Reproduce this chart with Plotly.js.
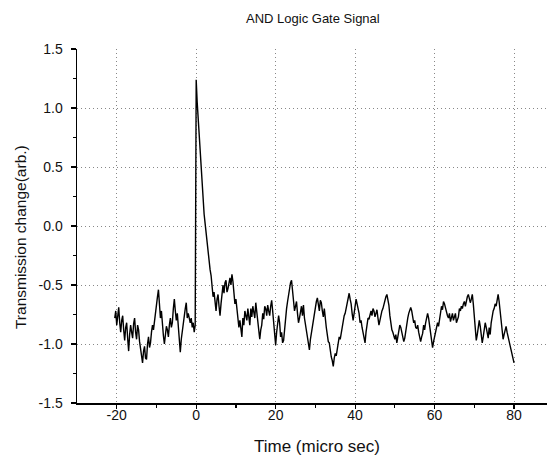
<!DOCTYPE html>
<html>
<head>
<meta charset="utf-8">
<script src="https://cdn.plot.ly/plotly-3.0.1.min.js"></script>
<style>html,body{margin:0;padding:0;background:#fff;}#chart{width:547px;height:458px;}</style>
</head>
<body>
<div id="chart"></div>
<script>
// Sampling grid of the trace (micro sec)
var timeStart = -20.5;
var timeStep = 0.25;
// Transmission change (arb.)
var signal = [
  -0.78, -0.72, -0.84, -0.76, -0.69, -0.82, -0.90, -0.80, -0.76, -0.88, -0.97, -0.86, -0.82, -0.95, -1.06, -0.92, -0.84, -0.90, -0.95, -0.83,
  -0.78, -0.90, -0.96, -0.84, -0.88, -0.98, -1.04, -1.10, -1.16, -1.06, -1.02, -1.12, -1.13, -1.00, -0.94, -1.03, -0.99, -0.90, -0.84, -0.88,
  -0.80, -0.74, -0.70, -0.60, -0.54, -0.66, -0.78, -0.72, -0.86, -0.93, -1.00, -0.90, -0.85, -0.88, -0.94, -0.84, -0.78, -0.86, -0.82, -0.70,
  -0.62, -0.72, -0.80, -0.74, -0.86, -0.98, -1.07, -0.96, -0.88, -0.80, -0.76, -0.70, -0.65, -0.78, -0.74, -0.80, -0.82, -0.78, -0.86, -0.82,
  -0.90, -0.84,  1.24,  1.05,  0.92,  0.74,  0.56,  0.44,  0.32,  0.20,  0.10,  0.02, -0.06, -0.16, -0.26, -0.33, -0.37, -0.42, -0.49, -0.60,
  -0.56, -0.66, -0.72, -0.62, -0.58, -0.68, -0.76, -0.66, -0.60, -0.50, -0.57, -0.48, -0.46, -0.56, -0.53, -0.47, -0.44, -0.50, -0.41, -0.47,
  -0.55, -0.66, -0.62, -0.70, -0.76, -0.86, -0.80, -0.88, -0.94, -0.78, -0.84, -0.72, -0.76, -0.80, -0.70, -0.78, -0.84, -0.70, -0.77, -0.68,
  -0.72, -0.78, -0.65, -0.74, -0.82, -0.90, -0.96, -0.88, -0.84, -0.74, -0.79, -0.68, -0.70, -0.76, -0.67, -0.72, -0.76, -0.68, -0.63, -0.72,
  -0.80, -0.92, -1.01, -0.90, -0.84, -0.76, -0.82, -0.94, -0.90, -0.99, -0.97, -0.86, -0.78, -0.70, -0.64, -0.58, -0.53, -0.48, -0.46, -0.56,
  -0.62, -0.72, -0.68, -0.64, -0.74, -0.82, -0.78, -0.72, -0.68, -0.76, -0.67, -0.78, -0.84, -0.90, -0.95, -1.02, -1.05, -0.96, -0.90, -0.86,
  -0.80, -0.76, -0.70, -0.64, -0.61, -0.68, -0.72, -0.63, -0.65, -0.72, -0.77, -0.70, -0.80, -0.86, -0.92, -0.98, -0.99, -1.06, -1.11, -1.14,
  -1.19, -1.12, -1.08, -1.10, -1.03, -0.98, -0.94, -0.96, -0.90, -0.84, -0.80, -0.76, -0.74, -0.70, -0.67, -0.60, -0.57, -0.62, -0.66, -0.74,
  -0.80, -0.74, -0.69, -0.62, -0.66, -0.70, -0.74, -0.82, -0.80, -0.86, -0.91, -0.96, -0.99, -0.90, -0.84, -0.78, -0.79, -0.76, -0.72, -0.76,
  -0.70, -0.72, -0.77, -0.74, -0.71, -0.78, -0.84, -0.80, -0.75, -0.72, -0.70, -0.66, -0.63, -0.60, -0.58, -0.62, -0.67, -0.76, -0.83, -0.88,
  -0.90, -0.94, -0.96, -0.92, -0.99, -0.94, -0.89, -0.84, -0.86, -0.90, -0.93, -0.98, -0.95, -0.88, -0.81, -0.78, -0.74, -0.70, -0.69, -0.72,
  -0.76, -0.82, -0.80, -0.86, -0.87, -0.84, -0.90, -0.94, -0.98, -0.94, -0.91, -0.84, -0.88, -0.82, -0.79, -0.74, -0.78, -0.84, -0.89, -0.96,
  -1.03, -0.98, -0.94, -0.90, -0.88, -0.82, -0.85, -0.78, -0.74, -0.68, -0.71, -0.64, -0.66, -0.70, -0.73, -0.76, -0.78, -0.74, -0.81, -0.78,
  -0.74, -0.80, -0.77, -0.74, -0.82, -0.80, -0.77, -0.70, -0.72, -0.68, -0.70, -0.66, -0.64, -0.68, -0.62, -0.60, -0.58, -0.62, -0.65, -0.62,
  -0.58, -0.66, -0.78, -0.88, -0.97, -0.92, -0.87, -0.80, -0.85, -0.92, -0.99, -0.94, -0.89, -0.82, -0.86, -0.92, -0.95, -0.86, -0.92, -0.82,
  -0.75, -0.72, -0.70, -0.66, -0.68, -0.62, -0.58, -0.64, -0.72, -0.82, -0.90, -0.96, -0.92, -0.88, -0.85, -0.90, -0.94, -0.97, -1.00, -1.04,
  -1.08, -1.12, -1.16
];
var xTicks = [-20, 0, 20, 40, 60, 80];
var yTicks = [-1.5, -1.0, -0.5, 0.0, 0.5, 1.0, 1.5];
var yTickText = ["-1.5", "-1.0", "-0.5", "0.0", "0.5", "1.0", "1.5"];
var titleText = "AND Logic Gate Signal";
var xTitleText = "Time (micro sec)";
var yTitleText = "Transmission change(arb.)";

var time = signal.map(function (_, i) { return timeStart + i * timeStep; });

var font = "Liberation Sans, Arial, sans-serif";
var ink = "#111";
var trace = {
  x: time, y: signal, type: "scatter", mode: "lines",
  line: {color: "#000", width: 1.4}, hoverinfo: "none"
};
var layout = {
  width: 547, height: 458,
  margin: {l: 77, r: 0, t: 49, b: 55, pad: 0},
  paper_bgcolor: "#fff", plot_bgcolor: "#fff",
  showlegend: false,
  title: {text: titleText, font: {family: font, size: 13, color: ink},
          x: 0.572, xanchor: "center", y: 0.96, yanchor: "middle"},
  xaxis: {
    range: [-30, 88.3], tickvals: xTicks, ticktext: xTicks.map(String),
    showline: true, linecolor: "#000", linewidth: 1.5, mirror: false,
    ticks: "outside", ticklen: 4, tickwidth: 1.2, tickcolor: "#000",
    minor: {tickvals: [-10, 10, 30, 50, 70], ticks: "outside", ticklen: 3, tickcolor: "#000", showgrid: false},
    showgrid: true, gridcolor: "#888", griddash: "1px,3px", gridwidth: 1,
    zeroline: false, ticklabelstandoff: -5,
    tickfont: {family: font, size: 14, color: ink}
  },
  yaxis: {
    range: [-1.5, 1.5], tickvals: yTicks, ticktext: yTickText,
    showline: true, linecolor: "#000", linewidth: 1.5, mirror: false,
    ticks: "outside", ticklen: 5, tickwidth: 1.2, tickcolor: "#000",
    minor: {tickvals: [-1.25, -0.75, -0.25, 0.25, 0.75, 1.25], ticks: "outside", ticklen: 3, tickcolor: "#000", showgrid: false},
    showgrid: true, gridcolor: "#888", griddash: "1px,3px", gridwidth: 1,
    zeroline: false, ticklabelstandoff: 5,
    tickfont: {family: font, size: 14, color: ink}
  },
  annotations: [
    {text: xTitleText, xref: "paper", yref: "paper", x: 0.511, y: -0.124,
     xanchor: "center", yanchor: "middle", showarrow: false,
     font: {family: font, size: 17, color: ink}},
    {text: yTitleText, xref: "paper", yref: "paper", x: -0.119, y: 0.469,
     xanchor: "center", yanchor: "middle", showarrow: false, textangle: -90,
     font: {family: font, size: 15.5, color: ink}}
  ]
};
Plotly.newPlot("chart", [trace], layout, {displayModeBar: false, staticPlot: true});
</script>
</body>
</html>
